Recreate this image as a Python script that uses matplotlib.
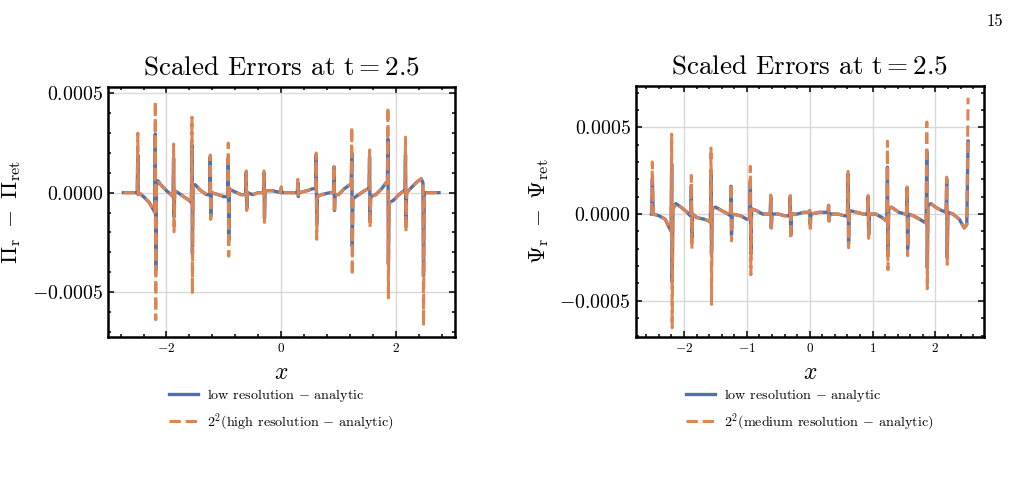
import matplotlib
matplotlib.use("Agg")
import matplotlib.pyplot as plt
from matplotlib.ticker import MultipleLocator

plt.rcParams.update({
    "font.family": "serif",
    "font.serif": ["cmr10"],
    "mathtext.fontset": "cm",
    "axes.formatter.use_mathtext": True,
    "axes.unicode_minus": True,
})

BLUE = "#4C72B0"
ORANGE = "#DD8452"

# ---- left panel: Pi ----
pi_x = [-2.75, -2.52,
        -2.51, -2.50, -2.492, -2.48,
        -2.40, -2.30, -2.22,
        -2.205, -2.195, -2.187, -2.175,
        -2.15, -2.10, -2.00, -1.92,
        -1.886, -1.876, -1.868, -1.856,
        -1.80, -1.70, -1.60,
        -1.566, -1.556, -1.548, -1.536,
        -1.50, -1.40, -1.30,
        -1.247, -1.237, -1.229, -1.217,
        -1.10, -1.00,
        -0.933, -0.923, -0.915, -0.903,
        -0.85, -0.70,
        -0.62, -0.61, -0.602, -0.59,
        -0.50, -0.40,
        -0.31, -0.30, -0.292, -0.28,
        -0.15, -0.01, 0.00, 0.01, 0.10,
        0.28, 0.29, 0.298, 0.31,
        0.45, 0.55,
        0.60, 0.61, 0.618, 0.63,
        0.70, 0.85,
        0.91, 0.92, 0.928, 0.94,
        1.00, 1.10, 1.20,
        1.22, 1.23, 1.238, 1.25,
        1.30, 1.45, 1.52,
        1.53, 1.54, 1.548, 1.56,
        1.65, 1.75, 1.83,
        1.85, 1.86, 1.868, 1.88,
        1.95, 2.05, 2.14,
        2.156, 2.166, 2.174, 2.186,
        2.25, 2.35, 2.44, 2.47,
        2.48, 2.495, 2.75]
pi_low = [0.0, 0.0,
          0.0, 0.00019, -0.00001, 0.0,
          -0.00002, -0.00005, -0.00009,
          -0.0001, 0.000296, -0.00039, 0.00004,
          0.00006, 0.00004, 0.00001, -0.00001,
          -0.00002, 0.000173, -0.00012, 0.00001,
          0.0, -0.00002, -0.00004,
          -0.00005, 0.00024, -0.000305, 0.00003,
          0.00004, 0.00001, -0.00001,
          -0.00001, 0.00018, -0.00012, 0.0,
          -0.00001, -0.00002,
          -0.00002, 0.000173, -0.00024, 0.00002,
          0.00001, -0.00001,
          -0.00001, 0.0001, -0.00008, 0.0,
          -0.00001, 0.0,
          0.0, 0.0001, -0.00013, 0.00001,
          0.00001, 0.0, 0.00002, 0.0, 0.0,
          0.0, 0.00005, -0.00002, 0.0,
          0.00001, 0.00002,
          0.00002, 0.00019, -0.00016, -0.00002,
          -0.00001, 0.0,
          0.0, 0.00013, -0.00009, -0.00001,
          -0.00001, 0.00002, 0.00004,
          0.00004, 0.0002, -0.00027, -0.00003,
          -0.00002, 0.00001, 0.00002,
          0.00002, 0.00018, -0.00014, -0.00002,
          -0.00001, 0.00002, 0.00005,
          0.00005, 0.00027, -0.00036, -0.00005,
          -0.00004, -0.00001, 0.00001,
          0.00001, 0.00019, -0.00014, 0.0,
          0.00002, 0.00005, 0.00007, 0.00005,
          -0.00042, 0.0, 0.0]
pi_high = [0.0, 0.0,
           0.0, 0.0003, -0.00001, 0.0,
           -0.00002, -0.00005, -0.00009,
           -0.0001, 0.00046, -0.00064, 0.00004,
           0.00006, 0.00004, 0.00001, -0.00001,
           -0.00002, 0.000245, -0.000197, 0.00001,
           0.0, -0.00002, -0.00004,
           -0.00005, 0.00038, -0.00051, 0.00003,
           0.00004, 0.00001, -0.00001,
           -0.00001, 0.00019, -0.000135, 0.0,
           -0.00001, -0.00002,
           -0.00002, 0.00025, -0.00032, 0.00002,
           0.00001, -0.00001,
           -0.00001, 0.00011, -0.00009, 0.0,
           -0.00001, 0.0,
           0.0, 0.00011, -0.00015, 0.00001,
           0.00001, 0.0, 0.00003, 0.0, 0.0,
           0.0, 0.000067, -0.00002, 0.0,
           0.00001, 0.00002,
           0.00002, 0.0002, -0.000235, -0.00002,
           -0.00001, 0.0,
           0.0, 0.00014, -0.0001, -0.00001,
           -0.00001, 0.00002, 0.00004,
           0.00004, 0.00033, -0.000415, -0.00003,
           -0.00002, 0.00001, 0.00002,
           0.00002, 0.000215, -0.000175, -0.00002,
           -0.00001, 0.00002, 0.00005,
           0.00005, 0.00043, -0.00053, -0.00005,
           -0.00004, -0.00001, 0.00001,
           0.00001, 0.00028, -0.000197, 0.0,
           0.00002, 0.00005, 0.00007, 0.00005,
           -0.00067, 0.0, 0.0]

# ---- right panel: Psi ----
psi_x = [-2.52, -2.515, -2.505, -2.49,
         -2.40, -2.30, -2.22,
         -2.207, -2.197, -2.189, -2.177,
         -2.13, -2.05, -1.95, -1.90,
         -1.894, -1.884, -1.876, -1.864,
         -1.80, -1.68, -1.60,
         -1.581, -1.571, -1.563, -1.551,
         -1.50, -1.40, -1.30,
         -1.263, -1.253, -1.245, -1.233,
         -1.10, -1.00,
         -0.955, -0.945, -0.937, -0.925,
         -0.85, -0.75,
         -0.63, -0.62, -0.612, -0.60,
         -0.50, -0.40,
         -0.32, -0.31, -0.302, -0.29,
         -0.20, -0.10,
         -0.01, 0.00, 0.008, 0.02,
         0.15,
         0.29, 0.30, 0.308, 0.32,
         0.45, 0.55,
         0.60, 0.61, 0.618, 0.63,
         0.75, 0.85,
         0.92, 0.93, 0.938, 0.95,
         1.05, 1.15, 1.22,
         1.227, 1.237, 1.245, 1.257,
         1.30, 1.42, 1.52,
         1.54, 1.55, 1.558, 1.57,
         1.65, 1.75, 1.84,
         1.853, 1.863, 1.871, 1.883,
         1.93, 2.00, 2.10,
         2.17, 2.18, 2.188, 2.20,
         2.28, 2.38, 2.46,
         2.50, 2.52]
psi_low = [0.0, 0.0, 0.0002, 0.0,
           -0.00001, -0.00003, -0.00009,
           -0.0001, 0.00029, -0.00039, 0.00003,
           0.00006, 0.00004, 0.00001, -0.00001,
           -0.00001, 0.000165, -0.000136, 0.0,
           -0.00002, -0.00003, -0.00004,
           -0.00005, 0.000236, -0.00023, 0.00003,
           0.00004, 0.00002, 0.0,
           -0.00001, 0.00016, -0.00012, 0.0,
           -0.00001, -0.00003,
           -0.00003, 0.00019, -0.00023, 0.00003,
           0.00002, 0.0,
           0.0, 0.0001, -0.00008, 0.0,
           0.0, -0.00001,
           -0.00001, 0.0001, -0.00012, 0.0,
           0.0, 0.00001,
           0.00001, 0.00002, -0.00006, 0.0,
           0.00001,
           0.00001, 0.00005, -0.00004, 0.0,
           0.0, -0.00001,
           -0.00001, 0.00023, -0.00017, 0.00002,
           0.00001, 0.0,
           0.0, 0.0001, -0.00012, 0.0,
           0.0, -0.00002, -0.00004,
           -0.00004, 0.00027, -0.00021, 0.00003,
           0.00004, 0.00001, 0.0,
           0.0, 0.00015, -0.0002, 0.0,
           -0.00001, -0.00003, -0.00005,
           -0.00005, 0.00036, -0.00031, 0.00005,
           0.00006, 0.00004, 0.00002,
           0.00001, 0.0002, -0.00025, 0.00001,
           0.0, -0.00003, -0.00008,
           -0.00006, 0.00042]
psi_med = [0.0, 0.0, 0.0003, 0.0,
           -0.00001, -0.00003, -0.00009,
           -0.0001, 0.00046, -0.000655, 0.00003,
           0.00006, 0.00004, 0.00001, -0.00001,
           -0.00001, 0.000223, -0.0002, 0.0,
           -0.00002, -0.00003, -0.00004,
           -0.00005, 0.00038, -0.00052, 0.00003,
           0.00004, 0.00002, 0.0,
           -0.00001, 0.000174, -0.000155, 0.0,
           -0.00001, -0.00003,
           -0.00003, 0.000275, -0.00035, 0.00003,
           0.00002, 0.0,
           0.0, 0.00011, -0.000093, 0.0,
           0.0, -0.00001,
           -0.00001, 0.000107, -0.000145, 0.0,
           0.0, 0.00001,
           0.00001, 0.00002, -0.0001, 0.0,
           0.00001,
           0.00001, 0.00005, -0.00004, 0.0,
           0.0, -0.00001,
           -0.00001, 0.000246, -0.000194, 0.00002,
           0.00001, 0.0,
           0.0, 0.000107, -0.00014, 0.0,
           0.0, -0.00002, -0.00004,
           -0.00004, 0.00042, -0.00032, 0.00003,
           0.00004, 0.00001, 0.0,
           0.0, 0.000165, -0.00024, 0.0,
           -0.00001, -0.00003, -0.00005,
           -0.00005, 0.00053, -0.00043, 0.00005,
           0.00006, 0.00004, 0.00002,
           0.00001, 0.000213, -0.00029, 0.00001,
           0.0, -0.00003, -0.00008,
           -0.00006, 0.00067]

fig = plt.figure(figsize=(10.09, 4.8), dpi=100)
ax1 = fig.add_axes([0.107, 0.298, 0.344, 0.521])
ax2 = fig.add_axes([0.630, 0.298, 0.345, 0.523])

panels = [
    (ax1, pi_x, pi_low, pi_high, r"$\Pi_{\mathrm{r}}\ -\ \Pi_{\mathrm{ret}}$",
     r"$2^2$(high resolution $-$ analytic)", 2, 0.4),
    (ax2, psi_x, psi_low, psi_med, r"$\Psi_{\mathrm{r}}\ -\ \Psi_{\mathrm{ret}}$",
     r"$2^2$(medium resolution $-$ analytic)", 1, 0.2),
]

for ax, x, lo, hi, ylab, hilab, xmaj, xmin in panels:
    ax.plot(x, lo, color=BLUE, lw=2.4, label=r"low resolution $-$ analytic")
    ax.plot(x, hi, color=ORANGE, lw=2.2, ls="--", label=hilab)
    ax.set_title(r"Scaled Errors at $\mathrm{t = 2.5}$", fontsize=19.5, pad=9)
    ax.set_xlabel(r"$x$", fontsize=17, labelpad=5)
    ax.set_ylabel(ylab, fontsize=16.5, labelpad=6)
    ax.xaxis.set_major_locator(MultipleLocator(xmaj))
    ax.xaxis.set_minor_locator(MultipleLocator(xmin))
    ax.yaxis.set_major_locator(MultipleLocator(0.0005))
    ax.yaxis.set_minor_locator(MultipleLocator(0.0001))
    ax.tick_params(which="both", direction="in", top=True, right=True, width=1.1)
    ax.tick_params(which="major", length=4.5)
    ax.tick_params(which="minor", length=2.5)
    ax.tick_params(axis="y", labelsize=14.3)
    ax.tick_params(axis="x", labelsize=9.5)
    ax.grid(True, which="major", color="#d8d8d8", lw=1.0)
    ax.set_axisbelow(True)
    for s in ax.spines.values():
        s.set_linewidth(1.8)
    ax.legend(loc="upper center", bbox_to_anchor=(0.5, -0.15), frameon=False,
              fontsize=10.2, labelspacing=0.5, handlelength=2.05, handletextpad=0.65)

ax1.set_xlim(-3.02, 3.03)
ax1.set_ylim(-0.000727, 0.000533)
ax2.set_xlim(-2.77, 2.77)
ax2.set_ylim(-0.000708, 0.000738)

fig.text(0.994, 0.955, "15", fontsize=12, ha="right", va="center")

fig.savefig("out.png", dpi=100)
